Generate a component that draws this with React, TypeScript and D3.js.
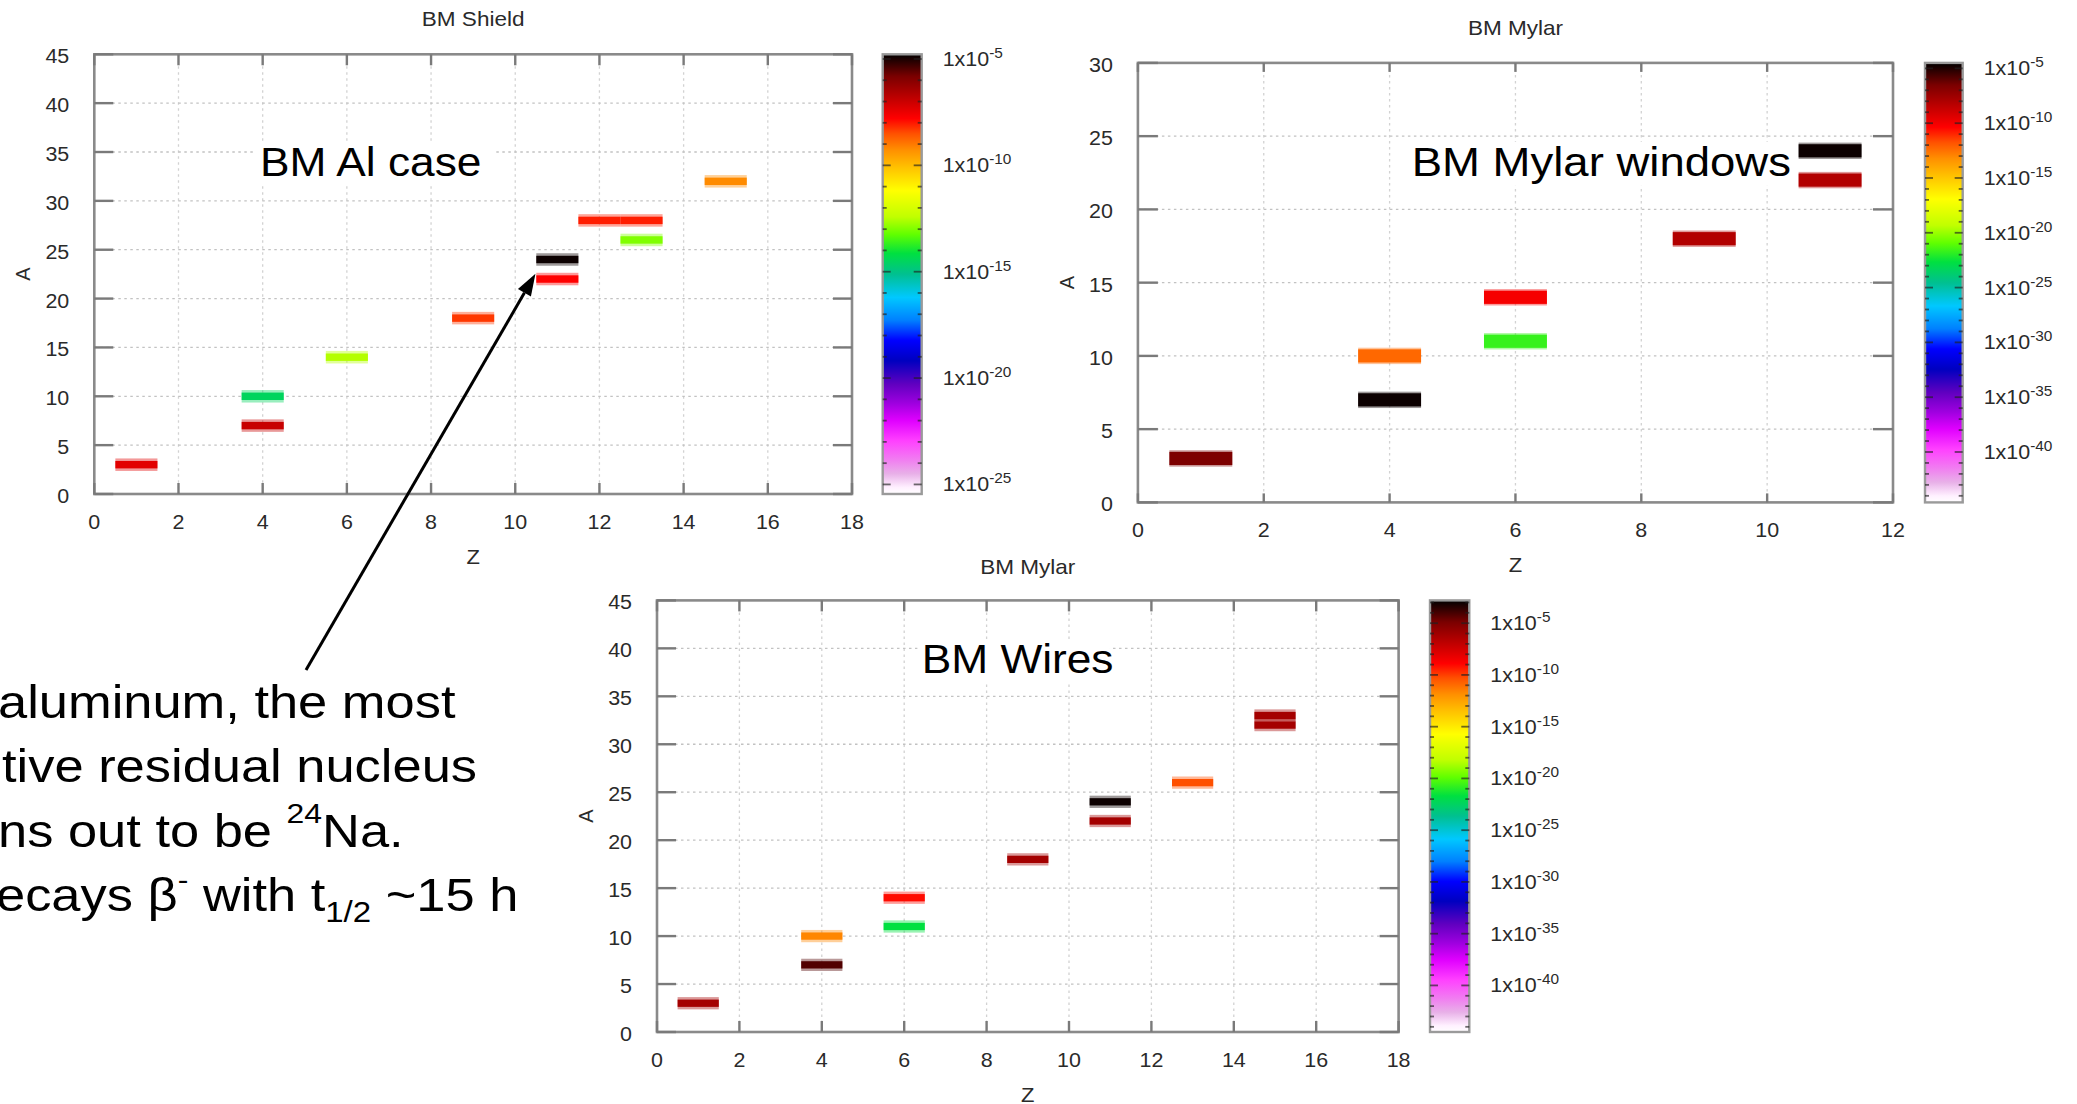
import React from 'react';
import * as d3 from 'd3';

// ---------------- DATA ----------------
// BM Shield (Al case): residual nuclei (Z, A) and log10 of activity-like quantity
const shieldZ = [1, 4, 4, 6, 9, 11, 11, 12, 13, 13, 15];
const shieldA = [3, 10, 7, 14, 18, 24, 22, 28, 28, 26, 32];
const shieldLog = [-7.36, -14.5, -6.95, -12.53, -8.29, -4.88, -7.8, -8.05, -8.05, -12.98, -9.22];

// BM Mylar windows
const windowsZ = [1, 4, 4, 6, 6, 9, 11, 11];
const windowsA = [3, 7, 10, 11, 14, 18, 24, 22];
const windowsLog = [-6.6, -4.7, -12.3, -21.7, -10.1, -8.1, -4.7, -8.1];

// BM Wires
const wiresZ = [1, 4, 4, 6, 6, 9, 11, 11, 13, 15, 15];
const wiresA = [3, 7, 10, 11, 14, 18, 24, 22, 26, 32, 33];
const wiresLog = [-6.14, -4.18, -11.64, -21.7, -9.06, -6.14, -3.0, -6.14, -10.3, -6.14, -6.14];

// ticks
const xTicks18 = [0, 2, 4, 6, 8, 10, 12, 14, 16, 18];
const xTicks12 = [0, 2, 4, 6, 8, 10, 12];
const yTicks45 = [0, 5, 10, 15, 20, 25, 30, 35, 40, 45];
const yTicks30 = [0, 5, 10, 15, 20, 25, 30];
const cbExp25 = [-5, -10, -15, -20, -25];
const cbExp40 = [-5, -10, -15, -20, -25, -30, -35, -40];

// palette (0 = top of colour box, 1 = bottom)
const paletteT = [0, 0.05, 0.1, 0.146, 0.18, 0.218, 0.256, 0.31, 0.37, 0.41, 0.453, 0.5, 0.553, 0.605, 0.651, 0.697, 0.75, 0.795, 0.833, 0.879, 0.924, 0.954, 0.985, 1];
const paletteC = ['#000000', '#7a0000', '#c00000', '#ff0000', '#ff5000', '#ff9000', '#ffc000', '#ffff00', '#c0ff00', '#60ff00', '#00e040', '#00c090', '#00c8ff', '#0080ff', '#0000ff', '#0000c0', '#6000c0', '#a000e0', '#e000ff', '#ff40ff', '#f080f0', '#e8b0e8', '#fff0ff', '#ffffff'];

const palette = d3.scaleLinear<string>().domain(paletteT).range(paletteC).interpolate(d3.interpolateRgb).clamp(true);

// ---------------- LAYOUT ----------------
const GF = "'Liberation Sans', Arial, Helvetica, sans-serif";
const SLIDE = "'Liberation Sans', Arial, Helvetica, sans-serif";

const panels = [
  {
    key: 'shield', title: 'BM Shield', label: 'BM Al case',
    left: 94.3, right: 852, top: 54.3, bottom: 494,
    xDomain: [0, 18], yDomain: [0, 45], xTicks: xTicks18, yTicks: yTicks45,
    cbLeft: 882.7, cbRight: 921.7, cbDomain: [-4.78, -25.45], cbLabels: cbExp25,
    labelX: 260, labelY: 175.7, labelSx: 1.08,
    core: 0.38, halo: 0.64, yTickLen: 19, xTickLen: 11, titleDy: 35,
    z: shieldZ, a: shieldA, v: shieldLog,
  },
  {
    key: 'windows', title: 'BM Mylar', label: 'BM Mylar windows',
    left: 1137.9, right: 1893, top: 62.9, bottom: 502.4,
    xDomain: [0, 12], yDomain: [0, 30], xTicks: xTicks12, yTicks: yTicks30,
    cbLeft: 1925, cbRight: 1962.7, cbDomain: [-4.5, -44.6], cbLabels: cbExp40,
    labelX: 1411.7, labelY: 175.7, labelSx: 1.11,
    core: 0.45, halo: 0.56, yTickLen: 20, xTickLen: 9, titleDy: 35,
    z: windowsZ, a: windowsA, v: windowsLog,
  },
  {
    key: 'wires', title: 'BM Mylar', label: 'BM Wires',
    left: 657, right: 1398.6, top: 600.4, bottom: 1032,
    xDomain: [0, 18], yDomain: [0, 45], xTicks: xTicks18, yTicks: yTicks45,
    cbLeft: 1430, cbRight: 1469.3, cbDomain: [-2.8, -44.5], cbLabels: cbExp40,
    labelX: 921.7, labelY: 673, labelSx: 1.08,
    core: 0.38, halo: 0.64, yTickLen: 19, xTickLen: 11, titleDy: 33.4,
    z: wiresZ, a: wiresA, v: wiresLog,
  },
];

// arrow pointing at 24Na in the shield panel (data coords of the tip)
const arrowTarget = { z: 10.48, a: 22.54 };
const arrowTail = [306, 670];

const SX = 1.1;

function T({ x, y, anchor = 'start', size, fill = '#2a2a2a', family = GF, sx = SX, weight = 'normal', children }: any) {
  return (
    <text transform={`translate(${x},${y}) scale(${sx},1)`} textAnchor={anchor} fontSize={size} fill={fill} fontFamily={family} fontWeight={weight}>
      {children}
    </text>
  );
}

function scalesFor(p: any) {
  const x = d3.scaleLinear().domain(p.xDomain).range([p.left, p.right]);
  const y = d3.scaleLinear().domain(p.yDomain).range([p.bottom, p.top]);
  return { x, y };
}

function Panel({ p }: any) {
  const { x, y } = scalesFor(p);
  const cb = d3.scaleLinear().domain(p.cbDomain).range([p.top, p.bottom]);
  const tpos = d3.scaleLinear().domain(p.cbDomain).range([0, 1]).clamp(true);
  const color = (v: number) => palette(tpos(v));
  const midX = (p.left + p.right) / 2;
  const midY = (p.top + p.bottom) / 2;
  const decades = d3.range(Math.ceil(p.cbDomain[1]), Math.floor(p.cbDomain[0]) + 1);
  const innerX = p.xTicks.filter((t: number) => t > p.xDomain[0] && t < p.xDomain[1]);
  const innerY = p.yTicks.filter((t: number) => t > p.yDomain[0] && t < p.yDomain[1]);
  const labelW = p.label.length * 41 * 0.52 * p.labelSx;

  return (
    <g>
      {/* grid */}
      {innerX.map((t: number) => (
        <line key={'gx' + t} x1={x(t)} x2={x(t)} y1={p.top} y2={p.bottom} stroke="#d2d2d2" strokeWidth={1.3} strokeDasharray="2.5 3.5" />
      ))}
      {innerY.map((t: number) => (
        <line key={'gy' + t} x1={p.left} x2={p.right} y1={y(t)} y2={y(t)} stroke="#c2c2c2" strokeWidth={1.3} strokeDasharray="2.5 3.5" />
      ))}

      {/* in-plot label */}
      <rect x={p.labelX - 4} y={p.labelY - 34} width={labelW + 8} height={44} fill="#fff" />
      <T x={p.labelX} y={p.labelY} size={41} fill="#000" family={SLIDE} sx={p.labelSx}>{p.label}</T>

      {/* bars */}
      {p.z.map((zv: number, i: number) => {
        const c = color(p.v[i]);
        const x0 = x(zv - 0.5);
        const w = x(zv + 0.5) - x0;
        const av = p.a[i];
        return (
          <g key={'b' + i}>
            <rect x={x0} width={w} y={y(av + p.halo)} height={y(av - p.halo) - y(av + p.halo)} fill={c} opacity={0.4} />
            <rect x={x0} width={w} y={y(av + p.core)} height={y(av - p.core) - y(av + p.core)} fill={c} />
          </g>
        );
      })}

      {/* frame */}
      <rect x={p.left} y={p.top} width={p.right - p.left} height={p.bottom - p.top} fill="none" stroke="#8a8a8a" strokeWidth={2.6} />
      {/* ticks */}
      {p.yTicks.map((t: number) => (
        <g key={'ty' + t} stroke="#7a7a7a" strokeWidth={2.4}>
          <line x1={p.left} x2={p.left + p.yTickLen} y1={y(t)} y2={y(t)} />
          <line x1={p.right - p.yTickLen} x2={p.right} y1={y(t)} y2={y(t)} />
        </g>
      ))}
      {p.xTicks.map((t: number) => (
        <g key={'tx' + t} stroke="#7a7a7a" strokeWidth={2.4}>
          <line x1={x(t)} x2={x(t)} y1={p.bottom} y2={p.bottom - p.xTickLen} />
          <line x1={x(t)} x2={x(t)} y1={p.top} y2={p.top + p.xTickLen} />
        </g>
      ))}
      {/* tick labels */}
      {p.yTicks.map((t: number) => (
        <T key={'ly' + t} x={p.left - 25} y={y(t) + 9} size={19.5} anchor="end">{t}</T>
      ))}
      {p.xTicks.map((t: number) => (
        <T key={'lx' + t} x={x(t)} y={p.bottom + 35} size={19.5} anchor="middle">{t}</T>
      ))}
      {/* axis titles */}
      <T x={midX} y={p.bottom + 70} size={20} anchor="middle">Z</T>
      <text transform={`translate(${p.left - 64},${midY}) rotate(-90)`} textAnchor="middle" fontSize={20} fill="#2a2a2a" fontFamily={GF}>A</text>
      <T x={midX} y={p.top - p.titleDy + 7} size={20.5} anchor="middle">{p.title}</T>

      {/* colour box */}
      <rect x={p.cbLeft} y={p.top} width={p.cbRight - p.cbLeft} height={p.bottom - p.top} fill="url(#pal)" stroke="#9a9a9a" strokeWidth={2.4} />
      {decades.map((d: number) => {
        const len = d % 5 === 0 ? 8 : 4;
        return (
          <g key={'cbt' + d} stroke="#202020" strokeOpacity={0.65} strokeWidth={1.8}>
            <line x1={p.cbLeft} x2={p.cbLeft + len} y1={cb(d)} y2={cb(d)} />
            <line x1={p.cbRight - len} x2={p.cbRight} y1={cb(d)} y2={cb(d)} />
          </g>
        );
      })}
      {p.cbLabels.map((e: number) => (
        <T key={'cbl' + e} x={p.cbRight + 21} y={cb(e) + 7} size={19.5}>
          1x10<tspan dy={-8} fontSize={14}>{e}</tspan>
        </T>
      ))}
    </g>
  );
}

export default function App() {
  const sh = scalesFor(panels[0]);
  const tip = [sh.x(arrowTarget.z), sh.y(arrowTarget.a)];
  const dx = tip[0] - arrowTail[0];
  const dy = tip[1] - arrowTail[1];
  const L = Math.hypot(dx, dy);
  const ux = dx / L, uy = dy / L;
  const headLen = 22, headW = 7.5;
  const base = [tip[0] - ux * headLen, tip[1] - uy * headLen];
  const head = [
    tip,
    [base[0] - uy * headW, base[1] + ux * headW],
    [base[0] + uy * headW, base[1] - ux * headW],
  ];

  const AF = 46;
  const ASX = 1.14;
  return (
    <svg width={2077} height={1104} style={{ position: 'absolute', left: 0, top: 0, background: '#fff' }}>
      <defs>
        <linearGradient id="pal" x1="0" y1="0" x2="0" y2="1">
          {paletteT.map((t, i) => (
            <stop key={i} offset={t} stopColor={paletteC[i]} />
          ))}
        </linearGradient>
      </defs>
      <rect width={2077} height={1104} fill="#fff" />
      {panels.map((p) => (
        <Panel key={p.key} p={p} />
      ))}

      {/* arrow */}
      <line x1={arrowTail[0]} y1={arrowTail[1]} x2={base[0]} y2={base[1]} stroke="#000" strokeWidth={3} />
      <polygon points={head.map((q) => q.join(',')).join(' ')} fill="#000" />

      {/* slide annotation (clipped at the left edge as in the reference) */}
      <T x={-2} y={718} size={AF} fill="#000" family={SLIDE} sx={ASX}>aluminum, the most</T>
      <T x={2} y={782} size={AF} fill="#000" family={SLIDE} sx={ASX}>tive residual nucleus</T>
      <T x={-2} y={847} size={AF} fill="#000" family={SLIDE} sx={ASX}>
        ns out to be <tspan dy={-24} fontSize={28}>24</tspan><tspan dy={24}>Na.</tspan>
      </T>
      <T x={-4} y={911} size={AF} fill="#000" family={SLIDE} sx={ASX}>
        ecays β<tspan dy={-22} fontSize={28}>-</tspan><tspan dy={22}> with t</tspan><tspan dy={11} fontSize={29}>1/2</tspan><tspan dy={-11}> ~15 h</tspan>
      </T>
    </svg>
  );
}
